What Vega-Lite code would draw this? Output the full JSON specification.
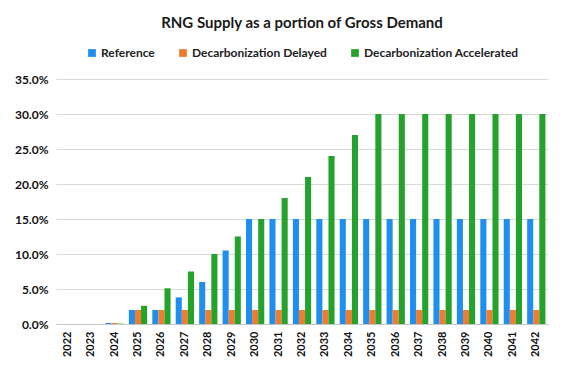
{
  "$schema": "https://vega.github.io/schema/vega-lite/v6.json",
  "width": 566,
  "height": 369,
  "autosize": {"type": "fit", "contains": "padding"},
  "padding": {"left": 14, "right": 18, "top": 16, "bottom": 12},
  "background": "white",
  "title": {
    "text": "RNG Supply as a portion of Gross Demand",
    "font": "Lato",
    "fontSize": 15,
    "fontWeight": "bold",
    "color": "#1a1a1a",
    "anchor": "middle",
    "offset": 16
  },
  "data": {
    "values": [
      {"year": "2022", "scenario": "Reference", "value": 0},
      {"year": "2022", "scenario": "Decarbonization Delayed", "value": 0},
      {"year": "2022", "scenario": "Decarbonization Accelerated", "value": 0},
      {"year": "2023", "scenario": "Reference", "value": 0},
      {"year": "2023", "scenario": "Decarbonization Delayed", "value": 0},
      {"year": "2023", "scenario": "Decarbonization Accelerated", "value": 0},
      {"year": "2024", "scenario": "Reference", "value": 0.0015},
      {"year": "2024", "scenario": "Decarbonization Delayed", "value": 0.0015},
      {"year": "2024", "scenario": "Decarbonization Accelerated", "value": 0.0005},
      {"year": "2025", "scenario": "Reference", "value": 0.02},
      {"year": "2025", "scenario": "Decarbonization Delayed", "value": 0.02},
      {"year": "2025", "scenario": "Decarbonization Accelerated", "value": 0.026},
      {"year": "2026", "scenario": "Reference", "value": 0.02},
      {"year": "2026", "scenario": "Decarbonization Delayed", "value": 0.02},
      {"year": "2026", "scenario": "Decarbonization Accelerated", "value": 0.051},
      {"year": "2027", "scenario": "Reference", "value": 0.038},
      {"year": "2027", "scenario": "Decarbonization Delayed", "value": 0.02},
      {"year": "2027", "scenario": "Decarbonization Accelerated", "value": 0.075},
      {"year": "2028", "scenario": "Reference", "value": 0.06},
      {"year": "2028", "scenario": "Decarbonization Delayed", "value": 0.02},
      {"year": "2028", "scenario": "Decarbonization Accelerated", "value": 0.1},
      {"year": "2029", "scenario": "Reference", "value": 0.105},
      {"year": "2029", "scenario": "Decarbonization Delayed", "value": 0.02},
      {"year": "2029", "scenario": "Decarbonization Accelerated", "value": 0.125},
      {"year": "2030", "scenario": "Reference", "value": 0.15},
      {"year": "2030", "scenario": "Decarbonization Delayed", "value": 0.02},
      {"year": "2030", "scenario": "Decarbonization Accelerated", "value": 0.15},
      {"year": "2031", "scenario": "Reference", "value": 0.15},
      {"year": "2031", "scenario": "Decarbonization Delayed", "value": 0.02},
      {"year": "2031", "scenario": "Decarbonization Accelerated", "value": 0.18},
      {"year": "2032", "scenario": "Reference", "value": 0.15},
      {"year": "2032", "scenario": "Decarbonization Delayed", "value": 0.02},
      {"year": "2032", "scenario": "Decarbonization Accelerated", "value": 0.21},
      {"year": "2033", "scenario": "Reference", "value": 0.15},
      {"year": "2033", "scenario": "Decarbonization Delayed", "value": 0.02},
      {"year": "2033", "scenario": "Decarbonization Accelerated", "value": 0.24},
      {"year": "2034", "scenario": "Reference", "value": 0.15},
      {"year": "2034", "scenario": "Decarbonization Delayed", "value": 0.02},
      {"year": "2034", "scenario": "Decarbonization Accelerated", "value": 0.27},
      {"year": "2035", "scenario": "Reference", "value": 0.15},
      {"year": "2035", "scenario": "Decarbonization Delayed", "value": 0.02},
      {"year": "2035", "scenario": "Decarbonization Accelerated", "value": 0.3},
      {"year": "2036", "scenario": "Reference", "value": 0.15},
      {"year": "2036", "scenario": "Decarbonization Delayed", "value": 0.02},
      {"year": "2036", "scenario": "Decarbonization Accelerated", "value": 0.3},
      {"year": "2037", "scenario": "Reference", "value": 0.15},
      {"year": "2037", "scenario": "Decarbonization Delayed", "value": 0.02},
      {"year": "2037", "scenario": "Decarbonization Accelerated", "value": 0.3},
      {"year": "2038", "scenario": "Reference", "value": 0.15},
      {"year": "2038", "scenario": "Decarbonization Delayed", "value": 0.02},
      {"year": "2038", "scenario": "Decarbonization Accelerated", "value": 0.3},
      {"year": "2039", "scenario": "Reference", "value": 0.15},
      {"year": "2039", "scenario": "Decarbonization Delayed", "value": 0.02},
      {"year": "2039", "scenario": "Decarbonization Accelerated", "value": 0.3},
      {"year": "2040", "scenario": "Reference", "value": 0.15},
      {"year": "2040", "scenario": "Decarbonization Delayed", "value": 0.02},
      {"year": "2040", "scenario": "Decarbonization Accelerated", "value": 0.3},
      {"year": "2041", "scenario": "Reference", "value": 0.15},
      {"year": "2041", "scenario": "Decarbonization Delayed", "value": 0.02},
      {"year": "2041", "scenario": "Decarbonization Accelerated", "value": 0.3},
      {"year": "2042", "scenario": "Reference", "value": 0.15},
      {"year": "2042", "scenario": "Decarbonization Delayed", "value": 0.02},
      {"year": "2042", "scenario": "Decarbonization Accelerated", "value": 0.3}
    ]
  },
  "mark": {"type": "bar"},
  "encoding": {
    "x": {
      "field": "year",
      "type": "nominal",
      "scale": {"paddingInner": 0.22, "paddingOuter": 0.11},
      "axis": {
        "title": null,
        "labelAngle": -90,
        "labelFont": "Lato",
        "labelFontSize": 11,
        "labelFontWeight": "bold",
        "labelColor": "#111111",
        "labelPadding": 7,
        "ticks": false,
        "domainColor": "#c8c8c8",
        "domainWidth": 1
      }
    },
    "xOffset": {
      "field": "scenario",
      "type": "nominal",
      "sort": ["Reference", "Decarbonization Delayed", "Decarbonization Accelerated"]
    },
    "y": {
      "field": "value",
      "type": "quantitative",
      "scale": {"domain": [0, 0.35], "nice": false},
      "axis": {
        "title": null,
        "format": ".1%",
        "values": [0, 0.05, 0.1, 0.15, 0.2, 0.25, 0.3, 0.35],
        "labelFont": "Lato",
        "labelFontSize": 12,
        "labelFontWeight": "bold",
        "labelColor": "#111111",
        "labelPadding": 8,
        "ticks": false,
        "domain": false,
        "gridColor": "#d9d9d9",
        "gridWidth": 1.2
      }
    },
    "color": {
      "field": "scenario",
      "type": "nominal",
      "sort": ["Reference", "Decarbonization Delayed", "Decarbonization Accelerated"],
      "scale": {
        "domain": ["Reference", "Decarbonization Delayed", "Decarbonization Accelerated"],
        "range": ["#1E8FEF", "#EE7D31", "#25A22B"]
      },
      "legend": {
        "title": null,
        "orient": "top",
        "direction": "horizontal",
        "symbolType": "square",
        "symbolSize": 60,
        "symbolStrokeWidth": 0,
        "labelFont": "Lato",
        "labelFontSize": 12,
        "labelFontWeight": "bold",
        "labelColor": "#222222",
        "columnPadding": 22,
        "labelOffset": 3,
        "offset": 20
      }
    }
  },
  "config": {
    "view": {"stroke": null},
    "legend": {"layout": {"top": {"anchor": "middle"}}}
  }
}
